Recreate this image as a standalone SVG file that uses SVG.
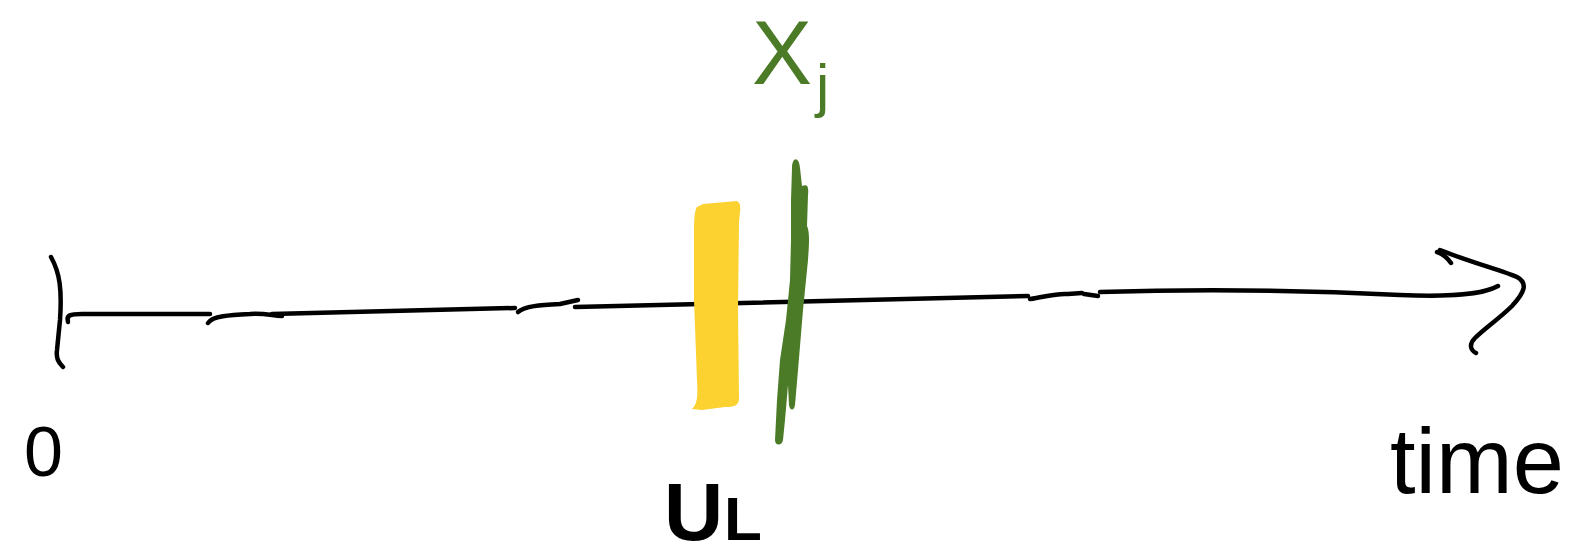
<svg xmlns="http://www.w3.org/2000/svg" width="1578" height="555" viewBox="0 0 1578 555">
<style>
.ink{fill:none;stroke:#000;stroke-width:4.5;stroke-linecap:round;stroke-linejoin:round}
.lbl{font-family:"Liberation Sans",Arial,sans-serif}
</style>
<rect width="1578" height="555" fill="#fff"/>
<g id="connectors">
<path class="ink" d="M51,257 C60,273 62,290 60,320 L57,350 C56,358 58,362 63,367"/>
<path class="ink" d="M68,322 C66,315 70,314 82,314 L210,314"/>
<path class="ink" d="M208,323 C212,316 230,315 250,314 C262,313 270,315 282,316"/>
<path class="ink" d="M272,314 L515,308"/>
<path class="ink" d="M518,312 C525,306 540,305 560,304 L578,300"/>
<path class="ink" d="M575,307 L1028,296"/>
<path class="ink" d="M1030,299 C1045,297 1055,293 1068,294 L1082,293"/>
<path class="ink" d="M1084,294 L1098,296"/>
<path class="ink" d="M1100,292 C1200,289 1300,290 1400,295 C1450,297 1482,295 1498,286"/>
<path class="ink" d="M1437,252 C1443,254 1447,257 1451,263"/>
<path class="ink" d="M1440,250 C1470,262 1500,270 1517,277 C1528,283 1525,292 1512,306 C1500,318 1485,328 1475,338 C1469,344 1470,350 1476,353"/>
</g>
<g id="yellow-bar">
<path d="M697,207 L703,204 L737,201 C742,204 740,210 739,222 L738,310 L739,398 C739,406 734,407 725,407 L702,410 L692,409 C697,404 698,398 697,380 L694,300 L694,232 C694,216 695,210 697,207 Z" fill="#FBD22F"/>
</g>
<g id="green-line">
<path fill="#4B7B26" d="M792,168 C792,157 799,156 800,168 L802,186 C807,184 809,186 808,195 L807,226 C810,232 809,245 808,260 L803,310 L798,370 L795,405 C794,411 790,411 789,405 L788,385 L785,420 L783,440 C782,446 775,446 775,440 L777,400 L780,360 L786,320 L790,280 L791,240 L791,200 Z"/>
</g>
<g id="label-zero">
<text class="lbl" x="24" y="476" font-size="70" fill="#000">0</text>
</g>
<g id="label-time">
<text class="lbl" x="1390" y="493" font-size="92" fill="#000">time</text>
</g>
<g id="label-xj">
<text class="lbl" x="752" y="84" font-size="90" fill="#4B7B26">X</text>
<text class="lbl" x="816" y="106" font-size="60" fill="#4B7B26">j</text>
</g>
<g id="label-ul">
<text class="lbl" x="664" y="540" font-size="82" font-weight="bold" fill="#000">U</text>
<text class="lbl" x="724" y="540" font-size="62" font-weight="bold" fill="#000">L</text>
</g>
</svg>
